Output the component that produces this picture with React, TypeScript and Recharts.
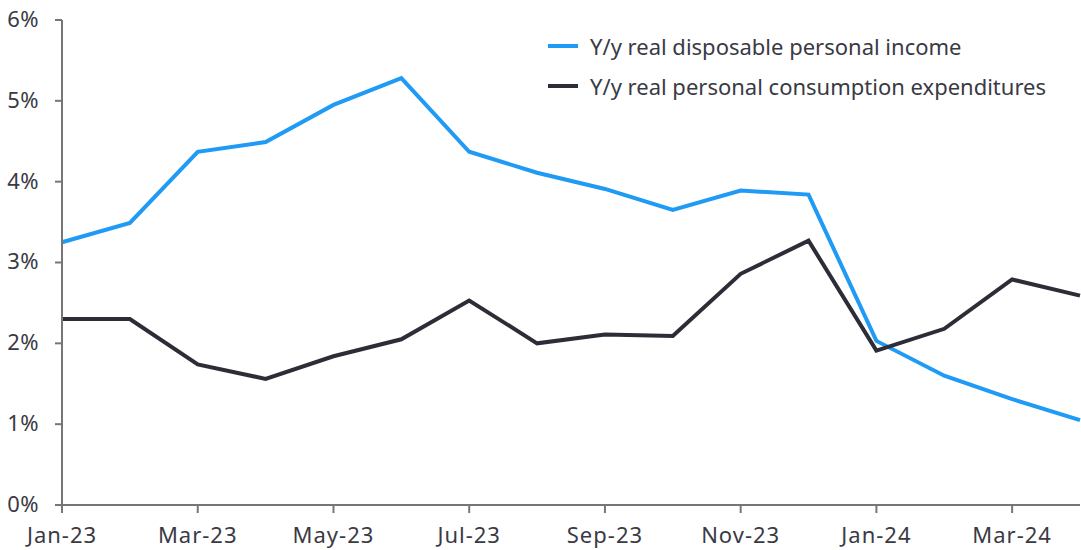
import { LineChart, Line, XAxis, YAxis } from "recharts";

const months = [
  "Jan-23", "Feb-23", "Mar-23", "Apr-23", "May-23", "Jun-23", "Jul-23", "Aug-23",
  "Sep-23", "Oct-23", "Nov-23", "Dec-23", "Jan-24", "Feb-24", "Mar-24", "Apr-24",
];
const income = [3.25, 3.49, 4.37, 4.49, 4.95, 5.28, 4.37, 4.11, 3.91, 3.65, 3.89, 3.84, 2.03, 1.6, 1.31, 1.05];
const consumption = [2.3, 2.3, 1.74, 1.56, 1.84, 2.05, 2.53, 2.0, 2.11, 2.09, 2.86, 3.27, 1.91, 2.18, 2.79, 2.59];
const yTicks = [0, 1, 2, 3, 4, 5, 6];

const BLUE = "#1f9bf5";
const DARK = "#2d2d37";
const AXIS = "#767676";
const TEXT = "#3a3a44";
const FONT = "'Noto Sans', sans-serif";

const data = months.map((m, i) => ({ month: m, income: income[i], consumption: consumption[i] }));

const legendItems = [
  { label: "Y/y real disposable personal income", color: BLUE },
  { label: "Y/y real personal consumption expenditures", color: DARK },
];

// legend drawn as an overlay so it does not take space from the plot
function LegendBox() {
  return (
    <div style={{ position: "absolute", left: 548, top: 26, fontFamily: FONT, fontSize: 22, color: TEXT }}>
      {legendItems.map((it) => (
        <div key={it.label} style={{ display: "flex", alignItems: "center", height: 40, whiteSpace: "nowrap" }}>
          <span style={{ display: "inline-block", width: 30, height: 4, background: it.color, marginRight: 12 }} />
          <span>{it.label}</span>
        </div>
      ))}
    </div>
  );
}

function XTick({ x, payload }: any) {
  return (
    <text x={x} y={537} textAnchor="middle" dominantBaseline="middle"
      fill={TEXT} fontSize={22} fontFamily={FONT} letterSpacing={1}>
      {payload.value}
    </text>
  );
}

function YTick({ y, payload }: any) {
  return (
    <text x={39} y={y + 1} textAnchor="end" dominantBaseline="middle"
      fill={TEXT} fontSize={22} fontFamily={FONT} letterSpacing={0.5}>
      {`${payload.value}%`}
    </text>
  );
}

export default function App() {
  return (
    <div style={{ position: "absolute", left: 0, top: 0, width: 1081, height: 550, background: "#fff" }}>
      <LineChart width={1081} height={550} data={data} margin={{ top: 20, right: 1, left: 0, bottom: 0 }}>
        <XAxis
          dataKey="month"
          interval={1}
          height={45}
          tickSize={8}
          tickLine={{ stroke: AXIS, strokeWidth: 2 }}
          axisLine={{ stroke: AXIS, strokeWidth: 2 }}
          tick={<XTick />}
        />
        <YAxis
          domain={[0, 6]}
          ticks={yTicks}
          width={62}
          tickSize={7}
          tickLine={{ stroke: AXIS, strokeWidth: 2 }}
          axisLine={{ stroke: AXIS, strokeWidth: 2 }}
          tick={<YTick />}
        />
        <Line
          type="linear"
          dataKey="income"
          stroke={BLUE}
          strokeWidth={4}
          dot={false}
          isAnimationActive={false}
        />
        <Line
          type="linear"
          dataKey="consumption"
          stroke={DARK}
          strokeWidth={4}
          dot={false}
          isAnimationActive={false}
        />
      </LineChart>
      <LegendBox />
    </div>
  );
}
